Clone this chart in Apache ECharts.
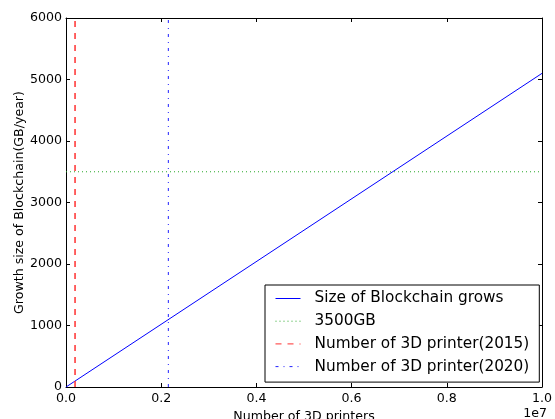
<!DOCTYPE html>
<html>
<head>
<meta charset="utf-8">
<script src="https://cdn.jsdelivr.net/npm/echarts@6/dist/echarts.min.js"></script>
<style>
  html, body { margin: 0; padding: 0; background: #fff; }
  #chart { width: 555px; height: 419px; }
</style>
</head>
<body>
<div id="chart"></div>
<script>
// Blockchain growth against number of 3D printers
const growthPrinters = [0, 10000000];
const growthSizeGB = [0, 5100];
const thresholdGB = [3500, 3500];
const thresholdSpan = [0, 10000000];
const printers2015 = [190000, 190000];
const printers2020 = [2150000, 2150000];
const verticalSpan = [0, 6000];

const xTicks = ['0.0', '0.2', '0.4', '0.6', '0.8', '1.0'];
const yTicks = ['0', '1000', '2000', '3000', '4000', '5000', '6000'];

const seriesNames = [
  'Size of Blockchain grows',
  '3500GB',
  'Number of 3D printer(2015)',
  'Number of 3D printer(2020)'
];

const FONT = 'DejaVu Sans';
const pairs = (xs, ys) => xs.map((x, i) => [x, ys[i]]);

const chart = echarts.init(document.getElementById('chart'), null, { renderer: 'canvas' });

const baseX = {
  type: 'value', min: 0, max: 10000000, interval: 2000000,
  splitLine: { show: false },
  axisLine: { onZero: false, lineStyle: { color: '#000', width: 1 } },
  axisTick: { inside: true, length: 4, lineStyle: { color: '#000' } }
};
const baseY = {
  type: 'value', min: 0, max: 6000, interval: 1000,
  splitLine: { show: false },
  axisLine: { onZero: false, lineStyle: { color: '#000', width: 1 } },
  axisTick: { inside: true, length: 4, lineStyle: { color: '#000' } }
};

chart.setOption({
  animation: false,
  backgroundColor: '#fff',
  grid: { left: 66, top: 18, right: 13, bottom: 32, containLabel: false, outerBoundsMode: 'none' },
  xAxis: [
    Object.assign({}, baseX, {
      position: 'bottom',
      name: 'Number of 3D printers',
      nameLocation: 'middle',
      nameGap: 23,
      nameMoveOverlap: false,
      nameTextStyle: { fontFamily: FONT, fontSize: 12.6, color: '#000', verticalAlign: 'top' },
      axisLabel: {
        margin: 5, fontFamily: FONT, fontSize: 12.6, color: '#000',
        formatter: v => xTicks[Math.round(v / 2000000)]
      }
    }),
    Object.assign({}, baseX, { position: 'top', axisLabel: { show: false } })
  ],
  yAxis: [
    Object.assign({}, baseY, {
      position: 'left',
      name: 'Growth size of Blockchain(GB/year)',
      nameLocation: 'middle',
      nameGap: 40,
      nameMoveOverlap: false,
      nameTextStyle: { fontFamily: FONT, fontSize: 12.6, color: '#000' },
      axisLabel: {
        margin: 4, fontFamily: FONT, fontSize: 12.6, color: '#000',
        formatter: v => yTicks[Math.round(v / 1000)]
      }
    }),
    Object.assign({}, baseY, { position: 'right', axisLabel: { show: false } })
  ],
  legend: {
    orient: 'vertical',
    left: 265, top: 285,
    padding: [6, 10, 8, 10],
    itemWidth: 25, itemHeight: 14, itemGap: 7.7,
    borderColor: '#000', borderWidth: 1,
    backgroundColor: '#fff',
    itemStyle: { opacity: 0 },
    lineStyle: { width: 1 },
    textStyle: { fontFamily: FONT, fontSize: 15.3, color: '#000', padding: [0, 0, 0, 9] },
    data: seriesNames
  },
  graphic: [{
    type: 'text', x: 547, y: 414,
    style: {
      text: '1e7', fontFamily: FONT, fontSize: 12.6, fill: '#000',
      align: 'right', verticalAlign: 'middle'
    }
  }],
  series: [
    {
      name: seriesNames[0], type: 'line', symbol: 'none',
      data: pairs(growthPrinters, growthSizeGB),
      lineStyle: { color: '#0000ff', width: 1 }, itemStyle: { color: '#0000ff' }
    },
    {
      name: seriesNames[1], type: 'line', symbol: 'none',
      data: pairs(thresholdSpan, thresholdGB),
      lineStyle: { color: '#2aa82a', width: 1, type: [1, 3] }, itemStyle: { color: '#2aa82a' }
    },
    {
      name: seriesNames[2], type: 'line', symbol: 'none',
      data: pairs(printers2015, verticalSpan),
      lineStyle: { color: '#ff3030', width: 1.5, type: [6, 6] }, itemStyle: { color: '#ff3030' }
    },
    {
      name: seriesNames[3], type: 'line', symbol: 'none',
      data: pairs(printers2020, verticalSpan),
      lineStyle: { color: '#2020ff', width: 1, type: [3, 5, 1, 5] }, itemStyle: { color: '#2020ff' }
    }
  ]
});
</script>
</body>
</html>
